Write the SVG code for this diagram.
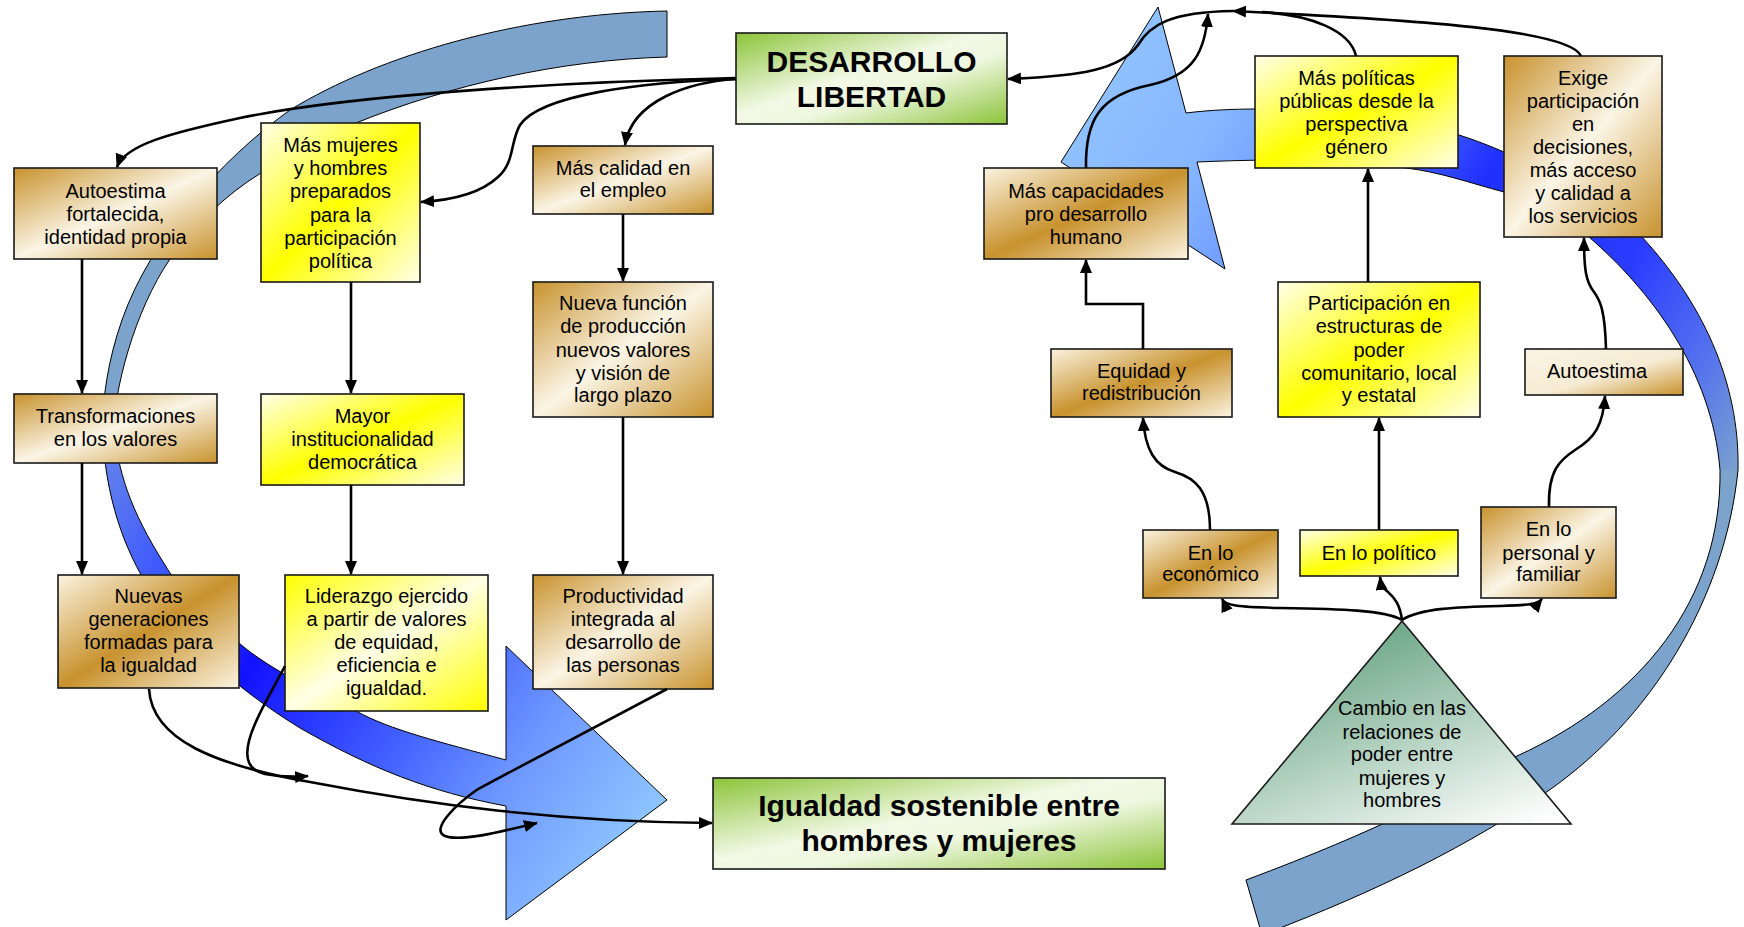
<svg xmlns="http://www.w3.org/2000/svg" width="1744" height="927" viewBox="0 0 1744 927">
<style>
.t{font-family:"Liberation Sans",Arial,sans-serif;font-size:20px;text-anchor:middle;fill:#000}
.b{font-family:"Liberation Sans",Arial,sans-serif;font-size:30px;font-weight:bold;text-anchor:middle;fill:#000}
.box{stroke:#1a1a1a;stroke-width:1.6}
.c{fill:none;stroke:#000;stroke-width:2.6;marker-end:url(#ah)}
.cn{fill:none;stroke:#000;stroke-width:2.6}
.band{stroke:#000;stroke-width:1}
</style>
<defs>
<marker id="ah" markerWidth="16" markerHeight="14" refX="13" refY="6" orient="auto" markerUnits="userSpaceOnUse"><path d="M0,0 L14,6 L0,12 z" fill="#000"/></marker>
<linearGradient id="gBrA" x1="0" y1="0" x2="1" y2="1"><stop offset="0" stop-color="#c8922e"/><stop offset="0.5" stop-color="#fbf5e6"/><stop offset="1" stop-color="#c8922e"/></linearGradient>
<linearGradient id="gBrB" x1="0" y1="0" x2="1" y2="1"><stop offset="0" stop-color="#fbf3e0"/><stop offset="0.5" stop-color="#c8922e"/><stop offset="1" stop-color="#fbf3e0"/></linearGradient>
<linearGradient id="gBrC" x1="0" y1="0" x2="1" y2="1"><stop offset="0" stop-color="#fbf5e6"/><stop offset="0.55" stop-color="#f6ebd3"/><stop offset="1" stop-color="#c8922e"/></linearGradient>
<linearGradient id="gYeA" x1="0" y1="0" x2="1" y2="1"><stop offset="0" stop-color="#ffff00"/><stop offset="0.5" stop-color="#ffffe6"/><stop offset="1" stop-color="#ffff00"/></linearGradient>
<linearGradient id="gYeB" x1="0" y1="0" x2="1" y2="1"><stop offset="0" stop-color="#ffffe8"/><stop offset="0.5" stop-color="#ffff00"/><stop offset="1" stop-color="#ffffe8"/></linearGradient>
<linearGradient id="gGr" x1="0" y1="0" x2="1" y2="1"><stop offset="0" stop-color="#8cc43a"/><stop offset="0.45" stop-color="#f2f9e6"/><stop offset="0.6" stop-color="#eef7df"/><stop offset="1" stop-color="#8cc43a"/></linearGradient>
<linearGradient id="gTri" x1="0.3" y1="0.05" x2="0.9" y2="1"><stop offset="0" stop-color="#66a381"/><stop offset="1" stop-color="#ffffff"/></linearGradient>
<linearGradient id="gLB" gradientUnits="userSpaceOnUse" x1="100" y1="430" x2="660" y2="800"><stop offset="0" stop-color="#6a8ae8"/><stop offset="0.2" stop-color="#3b55ff"/><stop offset="0.38" stop-color="#1212ff"/><stop offset="0.64" stop-color="#4565ff"/><stop offset="0.8" stop-color="#6f98ff"/><stop offset="1" stop-color="#8cc4ff"/></linearGradient>
<linearGradient id="gRB" gradientUnits="userSpaceOnUse" x1="1735" y1="480" x2="1100" y2="100"><stop offset="0" stop-color="#7ba3cc"/><stop offset="0.12" stop-color="#5572ee"/><stop offset="0.27" stop-color="#2a3cff"/><stop offset="0.5" stop-color="#2030ff"/><stop offset="0.72" stop-color="#6c98ff"/><stop offset="0.85" stop-color="#86b6ff"/><stop offset="1" stop-color="#8fc0ff"/></linearGradient>
</defs>
<rect width="1744" height="927" fill="#fff"/>

<g id="bands">
<path class="band" fill="#7ba3cc" d="M667,11 C520,14 380,55 290,110 C220,160 150,240 122,320 C108,360 103,395 101,440 L113,440 C113,390 135,310 170,259 C195,225 225,195 261,173 C290,155 320,138 356,123 C450,85 560,60 667,57 Z"/>
<path class="band" fill="url(#gLB)" d="M102,425 C105,500 125,550 150,590 C185,640 230,685 300,728 C370,768 430,792 506,806 L506,920 L667,800 L506,646 L506,760 C440,742 390,730 356,711 C320,693 270,670 239,643 C200,610 180,590 165,565 C130,510 117,470 114,425 Z"/>
<path fill="url(#gRB)" d="M1246,880 L1262,935 C1380,890 1470,845 1548,791 C1650,720 1725,600 1738,470 C1740,380 1700,300 1642,237 C1590,215 1540,200 1504,192 C1470,183 1440,172 1406,168 C1350,160 1290,158 1197,162 L1225,269 L1061,162 L1158,7 L1186,113 C1210,110 1235,109 1256,109 C1340,108 1410,120 1459,135 C1475,140 1490,146 1504,152 C1540,170 1570,200 1589,237 C1650,290 1712,370 1720,470 C1722,600 1640,700 1517,756 C1450,792 1380,830 1246,880 Z"/>
<path fill="#7ba3cc" d="M1246,880 L1262,935 C1380,890 1470,845 1548,791 C1650,720 1725,600 1738,470 L1720,470 C1722,600 1640,700 1517,756 C1450,792 1380,830 1246,880 Z"/>
<path class="band" fill="none" d="M1246,880 L1262,935 C1380,890 1470,845 1548,791 C1650,720 1725,600 1738,470 C1740,380 1700,300 1642,237 C1590,215 1540,200 1504,192 C1470,183 1440,172 1406,168 C1350,160 1290,158 1197,162 L1225,269 L1061,162 L1158,7 L1186,113 C1210,110 1235,109 1256,109 C1340,108 1410,120 1459,135 C1475,140 1490,146 1504,152 C1540,170 1570,200 1589,237 C1650,290 1712,370 1720,470 C1722,600 1640,700 1517,756 C1450,792 1380,830 1246,880 Z"/>
</g>

<g id="n-desarrollo"><rect class="box" x="736" y="33" width="271" height="91" fill="url(#gGr)"/><text class="b" x="871.5" y="72">DESARROLLO</text><text class="b" x="871.5" y="107">LIBERTAD</text></g>
<g id="n-autoestima-fortalecida"><rect class="box" x="14" y="168" width="203" height="91" fill="url(#gBrA)"/><text class="t" x="115.5" y="198">Autoestima</text><text class="t" x="115.5" y="221">fortalecida,</text><text class="t" x="115.5" y="244">identidad propia</text></g>
<g id="n-mas-mujeres"><rect class="box" x="261" y="123" width="159" height="159" fill="url(#gYeB)"/><text class="t" x="340.5" y="152">Más mujeres</text><text class="t" x="340.5" y="175">y hombres</text><text class="t" x="340.5" y="198">preparados</text><text class="t" x="340.5" y="222">para la</text><text class="t" x="340.5" y="245">participación</text><text class="t" x="340.5" y="268">política</text></g>
<g id="n-mas-calidad"><rect class="box" x="533" y="146" width="180" height="68" fill="url(#gBrA)"/><text class="t" x="623" y="175">Más calidad en</text><text class="t" x="623" y="197">el empleo</text></g>
<g id="n-nueva-funcion"><rect class="box" x="533" y="282" width="180" height="135" fill="url(#gBrA)"/><text class="t" x="623" y="310">Nueva función</text><text class="t" x="623" y="333">de producción</text><text class="t" x="623" y="357">nuevos valores</text><text class="t" x="623" y="380">y visión de</text><text class="t" x="623" y="402">largo plazo</text></g>
<g id="n-transformaciones"><rect class="box" x="14" y="394" width="203" height="69" fill="url(#gBrA)"/><text class="t" x="115.5" y="423">Transformaciones</text><text class="t" x="115.5" y="446">en los valores</text></g>
<g id="n-mayor"><rect class="box" x="261" y="394" width="203" height="91" fill="url(#gYeB)"/><text class="t" x="362.5" y="423">Mayor</text><text class="t" x="362.5" y="446">institucionalidad</text><text class="t" x="362.5" y="469">democrática</text></g>
<g id="n-nuevas"><rect class="box" x="58" y="575" width="181" height="113" fill="url(#gBrB)"/><text class="t" x="148.5" y="603">Nuevas</text><text class="t" x="148.5" y="626">generaciones</text><text class="t" x="148.5" y="649">formadas para</text><text class="t" x="148.5" y="672">la igualdad</text></g>
<g id="n-liderazgo"><rect class="box" x="285" y="575" width="203" height="136" fill="url(#gYeA)"/><text class="t" x="386.5" y="603">Liderazgo ejercido</text><text class="t" x="386.5" y="626">a partir de valores</text><text class="t" x="386.5" y="649">de equidad,</text><text class="t" x="386.5" y="672">eficiencia e</text><text class="t" x="386.5" y="695">igualdad.</text></g>
<g id="n-productividad"><rect class="box" x="533" y="575" width="180" height="114" fill="url(#gBrA)"/><text class="t" x="623" y="603">Productividad</text><text class="t" x="623" y="626">integrada al</text><text class="t" x="623" y="649">desarrollo de</text><text class="t" x="623" y="672">las personas</text></g>
<g id="n-igualdad"><rect class="box" x="713" y="778" width="452" height="91" fill="url(#gGr)"/><text class="b" x="939" y="816">Igualdad sostenible entre</text><text class="b" x="939" y="851">hombres y mujeres</text></g>
<g id="n-mas-capacidades"><rect class="box" x="984" y="168" width="204" height="91" fill="url(#gBrB)"/><text class="t" x="1086" y="198">Más capacidades</text><text class="t" x="1086" y="221">pro desarrollo</text><text class="t" x="1086" y="244">humano</text></g>
<g id="n-mas-politicas"><rect class="box" x="1255" y="56" width="203" height="112" fill="url(#gYeB)"/><text class="t" x="1356.5" y="85">Más políticas</text><text class="t" x="1356.5" y="108">públicas desde la</text><text class="t" x="1356.5" y="131">perspectiva</text><text class="t" x="1356.5" y="154">género</text></g>
<g id="n-exige"><rect class="box" x="1504" y="56" width="158" height="181" fill="url(#gBrA)"/><text class="t" x="1583" y="85">Exige</text><text class="t" x="1583" y="108">participación</text><text class="t" x="1583" y="131">en</text><text class="t" x="1583" y="154">decisiones,</text><text class="t" x="1583" y="177">más acceso</text><text class="t" x="1583" y="200">y calidad a</text><text class="t" x="1583" y="223">los servicios</text></g>
<g id="n-equidad"><rect class="box" x="1051" y="349" width="181" height="68" fill="url(#gBrB)"/><text class="t" x="1141.5" y="378">Equidad y</text><text class="t" x="1141.5" y="400">redistribución</text></g>
<g id="n-participacion"><rect class="box" x="1278" y="282" width="202" height="135" fill="url(#gYeB)"/><text class="t" x="1379" y="310">Participación en</text><text class="t" x="1379" y="333">estructuras de</text><text class="t" x="1379" y="357">poder</text><text class="t" x="1379" y="380">comunitario, local</text><text class="t" x="1379" y="402">y estatal</text></g>
<g id="n-autoestima"><rect class="box" x="1525" y="349" width="158" height="46" fill="url(#gBrC)"/><text class="t" x="1597" y="378">Autoestima</text></g>
<g id="n-economico"><rect class="box" x="1143" y="530" width="135" height="68" fill="url(#gBrB)"/><text class="t" x="1210.5" y="560">En lo</text><text class="t" x="1210.5" y="581">económico</text></g>
<g id="n-politico"><rect class="box" x="1300" y="530" width="158" height="46" fill="url(#gYeB)"/><text class="t" x="1379" y="560">En lo político</text></g>
<g id="n-personal"><rect class="box" x="1481" y="507" width="135" height="91" fill="url(#gBrA)"/><text class="t" x="1548.5" y="536">En lo</text><text class="t" x="1548.5" y="560">personal y</text><text class="t" x="1548.5" y="581">familiar</text></g>
<g id="n-cambio"><polygon class="box" points="1402,621 1232,824 1571,824" fill="url(#gTri)"/><text class="t" x="1402" y="715">Cambio en las</text><text class="t" x="1402" y="739">relaciones de</text><text class="t" x="1402" y="761">poder entre</text><text class="t" x="1402" y="785">mujeres y</text><text class="t" x="1402" y="807">hombres</text></g>

<g id="connectors">
<path class="c" d="M736,78 C560,82 350,95 240,118 C170,133 125,145 117,167"/>
<path class="c" d="M736,79 C640,82 540,95 520,125 C510,142 515,162 498,177 C482,192 455,200 421,202"/>
<path class="c" d="M736,79 C690,82 632,100 625,145"/>
<path class="c" d="M82,259 L82,393"/>
<path class="c" d="M82,463 L82,574"/>
<path class="c" d="M351,282 L351,393"/>
<path class="c" d="M351,485 L351,574"/>
<path class="c" d="M623,214 L623,281"/>
<path class="c" d="M623,417 L623,574"/>
<path class="c" d="M149,689 C152,740 215,765 310,782 C430,805 560,822 712,823"/>
<path class="c" d="M285,666 C262,710 225,765 265,774 C280,777 295,777 308,776"/>
<path class="c" d="M667,689 L478,789 C455,805 430,830 445,836 C460,842 500,832 537,823"/>
<path class="c" d="M1581,56 C1570,30 1420,20 1233,11"/>
<path class="cn" d="M1356,56 C1350,30 1310,15 1262,12"/>
<path class="c" d="M1233,11 C1170,12 1150,25 1138,45 C1120,70 1080,76 1008,79"/>
<path class="c" d="M1086,168 C1085,120 1100,95 1150,85 C1195,75 1205,50 1208,14"/>
<path class="c" d="M1143,349 L1143,304 L1086,304 L1086,260"/>
<path class="c" d="M1368,282 L1368,169"/>
<path class="c" d="M1606,349 C1605,310 1600,300 1594,292 C1586,282 1584,270 1584,238"/>
<path class="c" d="M1210,530 C1210,490 1195,478 1175,472 C1155,466 1145,450 1143,418"/>
<path class="c" d="M1379,530 L1379,418"/>
<path class="c" d="M1549,507 C1548,470 1560,460 1575,450 C1595,438 1603,425 1605,396"/>
<path class="c" d="M1402,620 C1385,610 1340,609 1280,608 C1240,607 1225,606 1222,599"/>
<path class="c" d="M1402,620 C1400,605 1395,598 1388,592 C1383,588 1381,585 1380,577"/>
<path class="c" d="M1402,620 C1420,608 1460,607 1500,606 C1530,605 1538,604 1542,599"/>
</g>
</svg>
